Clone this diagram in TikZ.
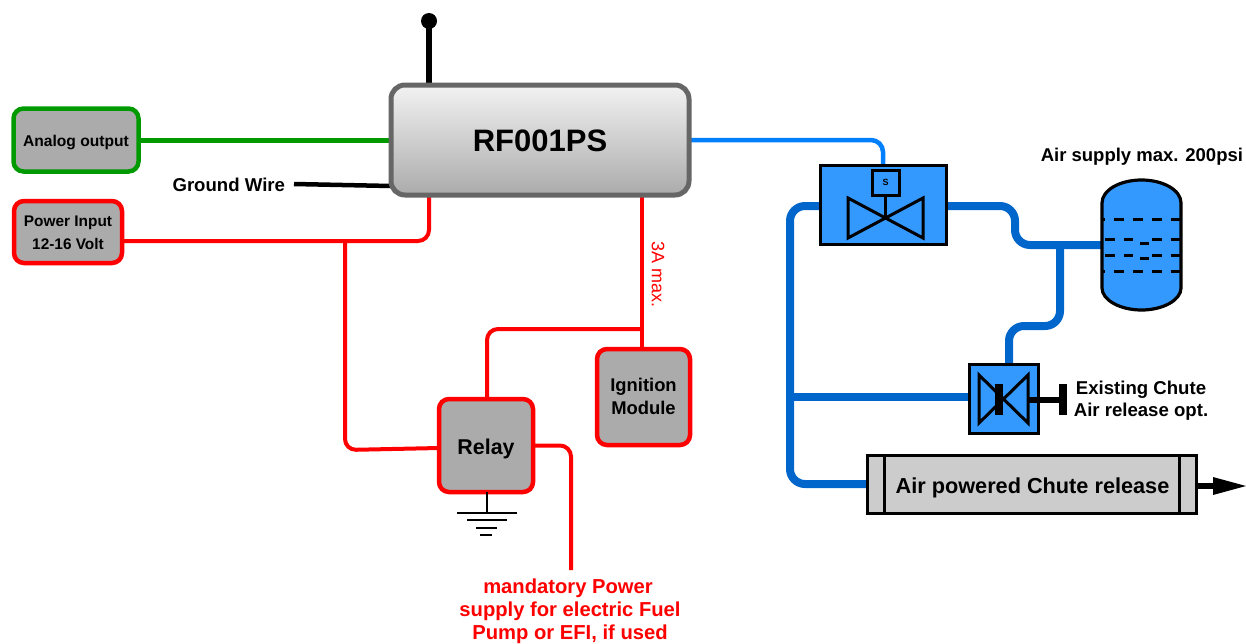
\documentclass[tikz,border=0pt]{standalone}
\usepackage{fontspec}
\setmainfont{Liberation Sans}
\usetikzlibrary{backgrounds,calc}
\definecolor{grn}{HTML}{009900}
\definecolor{rd}{HTML}{FF0000}
\definecolor{bluelite}{HTML}{3399FF}
\definecolor{pipeblue}{HTML}{0066CC}
\definecolor{sigblue}{HTML}{007FFF}
\definecolor{boxgray}{HTML}{ABABAB}
\newcommand{\fs}[1]{\fontsize{#1}{#1}\selectfont}
\tikzset{
  every node/.style={outer sep=0pt,inner sep=0pt},
  lbl/.style={font=\bfseries\fs{#1},align=center,text=black},
  greybox/.style={draw=#1,line width=4.5pt,fill=boxgray,rounded corners=10pt},
  redwire/.style={draw=rd,line width=4pt,rounded corners=11pt},
  pipe/.style={draw=pipeblue,line width=8pt,rounded corners=15pt},
  bluebox/.style={draw=black,line width=3pt,fill=bluelite},
  sym/.style={draw=black,line width=3pt,line join=miter},
  gnd/.style={draw=black,line width=2.6pt},
  tankdash/.style={draw=black,line width=3pt},
}
\begin{document}
\begin{tikzpicture}[x=1pt,y=-1pt]
\useasboundingbox (0,0) rectangle (1246,643);
% main boxes
\node[draw=black!60,line width=5pt,rounded corners=14pt,top color=black!5,bottom color=black!33,
  minimum width=298pt,minimum height=110pt] (rf) at (540,140) {};
\node[lbl=31] (rft) at (540,141) {RF001PS};
\node[greybox=grn,minimum width=125pt,minimum height=63pt] (an) at (76,140) {};
\node[lbl=15.6] (ant) at (76,142) {Analog output};
\node[greybox=rd,minimum width=108pt,minimum height=62pt] (pw) at (68,232) {};
\node[lbl=15.4] (pw1) at (68,223) {Power Input};
\node[lbl=15.4] (pw2) at (68,244) {12-16 Volt};
\node[greybox=rd,minimum width=94pt,minimum height=93pt] (relay) at (486,445.5) {};
\node[lbl=21.4] (relayt) at (486,449) {Relay};
\node[greybox=rd,minimum width=93pt,minimum height=96pt] (ign) at (643.5,397) {};
\node[lbl=18.4] (ign1) at (643.5,386.5) {Ignition};
\node[lbl=18.4] (ign2) at (643.5,408) {Module};
% texts
\node[lbl=18.6,anchor=east] (gtxt) at (285,184.5) {Ground Wire};
\node[lbl=18.5,anchor=east] (airtxt) at (1243,157) {Air supply max. 200psi};
\node[lbl=18.6] (ex1) at (1141,390) {Existing Chute};
\node[lbl=18.6] (ex2) at (1141,412) {Air release opt.};
\node[font=\fs{18},text=rd,rotate=-90] (amax) at (658,274.5) {3A max.};
\node[lbl=20.2,text=rd] (m1) at (568,588) {mandatory Power};
\node[lbl=20.2,text=rd] (m2) at (570,611) {supply for electric Fuel};
\node[lbl=20.2,text=rd] (m3) at (570,634) {Pump or EFI, if used};
% antenna
\node[circle,fill=black,minimum size=16pt] (ball) at (429,21) {};
\coordinate (gndwire) at (294,184);
% valve 1
\node[bluebox,minimum width=126pt,minimum height=79pt] (v1) at (883.5,204.5) {};
\node[draw=black,line width=3pt,fill=bluelite,minimum width=27pt,minimum height=25pt,font=\bfseries\rmfamily\fs{9}] (v1s) at (885.5,182.5) {S};
\coordinate (v1c) at (885.5,218);
\draw[sym] (v1s.south) -- (v1c);
\draw[sym] (848,198) -- (848,238) -- (923,198) -- (923,238) -- cycle;
% valve 2
\node[bluebox,minimum width=69pt,minimum height=69pt] (v2) at (1004,399) {};
\fill[black] (995,384) rectangle (1003,415);
\draw[sym] (979,375) -- (979,423) -- (1028,375) -- (1028,423) -- cycle;
\node[fill=black,minimum width=8pt,minimum height=31pt] (hnd) at (1063,399.5) {};
\draw[black,line width=6pt] (1027,399.5) -- (hnd.west);
% chute cylinder
\node[draw=black,line width=3pt,fill=black!20,minimum width=329pt,minimum height=58pt] (cyl) at (1032,484.5) {};
\node[lbl=21.7] (cylt) at (1032.5,488) {Air powered Chute release};
\draw[black,line width=3pt] ([xshift=17pt]cyl.north west) -- ([xshift=17pt]cyl.south west);
\draw[black,line width=3pt] ([xshift=-17pt]cyl.north east) -- ([xshift=-17pt]cyl.south east);
\coordinate (arrowend) at (1246,486);
\draw[black,line width=6pt] ([yshift=-1.5pt]cyl.east) -- (1214,486);
\fill[black] (1213,477) -- (arrowend) -- (1213,495) -- cycle;
% tank
\node[minimum width=79pt,minimum height=131pt] (tank) at (1141.5,245) {};
\draw[draw=black,line width=3.2pt,fill=bluelite]
  (1102,203) .. controls (1102,190) and (1120,180) .. (1141.5,180)
  .. controls (1163,180) and (1181,190) .. (1181,203)
  -- (1181,288) .. controls (1181,300) and (1163,310) .. (1141.5,310)
  .. controls (1120,310) and (1102,300) .. (1102,288) -- cycle;
\foreach \yy in {219,271}
  \foreach \aa/\bb in {1102/1105,1114/1124,1133/1143,1152/1162,1171/1180}
    \draw[tankdash] (\aa,\yy) -- (\bb,\yy);
\foreach \yy/\mm in {239/243,255/258}{
  \foreach \aa/\bb in {1105/1115,1124/1133,1152/1162,1171/1180}
    \draw[tankdash] (\aa,\yy) -- (\bb,\yy);
  \draw[tankdash] (1140,\mm) -- (1149,\mm);
}
% ground
\coordinate (g0) at (487,513);
\draw[black,line width=2.6pt] ([xshift=1pt]relay.south) -- (g0);
\draw[gnd] (457,513) -- (517,513);
\draw[gnd] (467,520) -- (507,520);
\draw[gnd] (476,528) -- (497,528);
\draw[gnd] (480,535) -- (492,535);
% connectors underneath
\coordinate (jpw) at (345,241);
\coordinate (j3a) at (642,329);
\coordinate (jtank) at (1060,245);
\coordinate (jleft) at (790,397);
\begin{pgfonlayer}{background}
\draw[black,line width=6pt] (ball.center) -- ([xshift=-111pt]rf.north);
\draw[grn,line width=5pt] (an.east) -- (rf.west);
\draw[black,line width=4.5pt] (gndwire) -- ([yshift=-46pt]rf.west);
\path[redwire] ([yshift=-9pt]pw.east) -| ([xshift=-111pt]rf.south);
\path[redwire] (jpw) -- (345,450) -- ([yshift=-2.5pt]relay.west);
\path[redwire] ([xshift=102pt]rf.south) -- (ign.north -| j3a);
\path[redwire] (j3a) -| ([xshift=1pt]relay.north);
\path[redwire] (relay.east) -| (571,570);
\path[draw=sigblue,line width=4.5pt,rounded corners=12pt] (rf.east) -| ([xshift=-0.5pt]v1.north);
\path[pipe] ([yshift=-1.5pt]v1.east) -- (1015,206) -- (1015,245) -- (tank.west);
\path[pipe] (jtank) -- (1060,326) -- (1009,326) -- (1009,364);
\path[pipe] ([yshift=-1.5pt]v1.west) -| (790,484) -- ([yshift=0.5pt]cyl.west);
\path[pipe] (jleft) -- ([yshift=2pt]v2.west);
\end{pgfonlayer}
\end{tikzpicture}
\end{document}
